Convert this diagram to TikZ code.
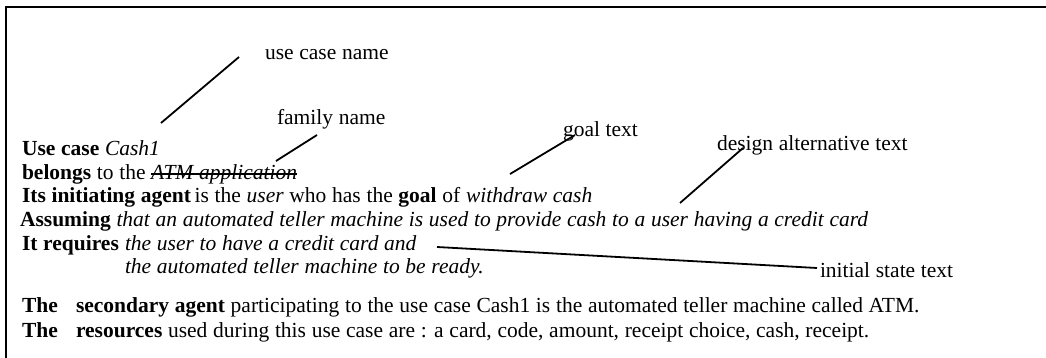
\documentclass[tikz,border=0pt]{standalone}
\usepackage{fontspec}
\setmainfont[WordSpace=1.06]{Liberation Serif}
\begin{document}
\begin{tikzpicture}[x=1pt,y=-1pt,
  every node/.style={inner sep=0pt,outer sep=0pt,anchor=base west,
    font=\fontsize{21.5}{24}\selectfont},
  frame/.style={line width=2.5pt},
  pointer/.style={line width=1.8pt},
  strike/.style={line width=1.2pt}]
\useasboundingbox (0,0) rectangle (1046,358);
% outer frame (top and left edges)
\draw[frame] (6,358) -- (6,7) -- (1046,7);

% use case description
\node (l1) at (22,156) {\textbf{Use case} \textit{Cash1}};
\node (l2) at (22,179) {\textbf{belongs} to the};
\node (fam) at ([xshift=5.5pt]l2.base east) {\textit{ATM application}};
\draw[strike] ([yshift=5pt]fam.base west) -- ([yshift=5pt]fam.base east);
\node (l3) at (22,203) {\textbf{Its initiating agent}\,is the \textit{user} who has the \textbf{goal} of \textit{withdraw cash}};
\node (l4) at (20,226) {\textbf{Assuming} \textit{that an automated teller machine is used to provide cash to a user having a credit card}};
\node (l5a) at (22,250) {\textbf{It requires}};
\node (l5b) at (125,250) {\textit{the user to have a credit card and}};
\node (l6) at (125,273) {\textit{the automated teller machine to be ready.}};
\node (l7a) at (22,312) {\textbf{The}};
\node (l7b) at (76,312) {\textbf{secondary agent} participating to the use case Cash1 is the automated teller machine called ATM.};
\node (l8a) at (22,337) {\textbf{The}};
\node (l8b) at (76,337) {\textbf{resources} used during this use case are : a card, code, amount, receipt choice, cash, receipt.};

% annotation labels
\node (ucn) at (265,60) {use case name};
\node (fn) at (277,125) {family name};
\node (gt) at (563,137) {goal text};
\node (dat) at (717,151) {design alternative text};
\node (ist) at (820,277) {initial state text};

% pointer lines
\coordinate (a1) at (161,123); \coordinate (b1) at (239,57);
\coordinate (a2) at (276,161); \coordinate (b2) at (317,135);
\coordinate (a3) at (510,174); \coordinate (b3) at (575,135);
\coordinate (a4) at (680,203); \coordinate (b4) at (743,148);
\coordinate (a5) at (437,247); \coordinate (b5) at (817,268);
\draw[pointer] (a1) -- (b1);
\draw[pointer] (a2) -- (b2);
\draw[pointer] (a3) -- (b3);
\draw[pointer] (a4) -- (b4);
\draw[pointer] (a5) -- (b5);
\end{tikzpicture}
\end{document}
